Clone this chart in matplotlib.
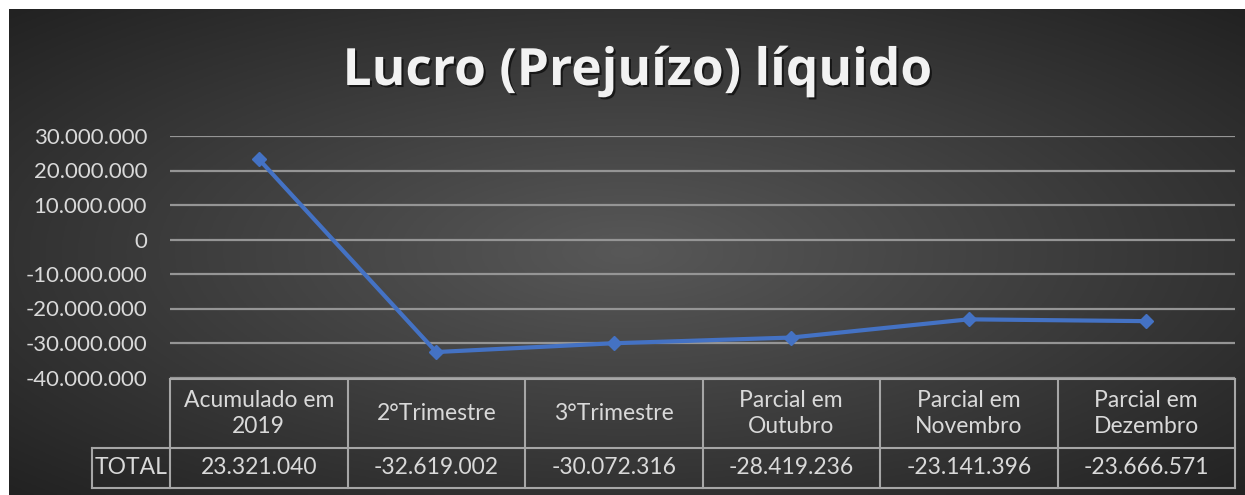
import numpy as np
import matplotlib.pyplot as plt
import matplotlib.patheffects as pe
from matplotlib.ticker import FuncFormatter
from matplotlib.transforms import blended_transform_factory

plt.rcParams['font.family'] = ['Lato', 'DejaVu Sans']

# dados
categorias = ['Acumulado em\n2019', '2°Trimestre', '3°Trimestre',
              'Parcial em\nOutubro', 'Parcial em\nNovembro', 'Parcial em\nDezembro']
valores = [23321040, -32619002, -30072316, -28419236, -23141396, -23666571]
rotulo_linha = 'TOTAL'
y_ticks = [-40000000, -30000000, -20000000, -10000000, 0, 10000000, 20000000, 30000000]


def fmt_br(v):
    return f"{v:,.0f}".replace(',', '.')


W, H = 1245, 495
fig = plt.figure(figsize=(W / 100, H / 100), dpi=100)
fig.patch.set_facecolor('white')

# fundo com gradiente radial (estilo Excel escuro)
bg = fig.add_axes([9 / W, 0, 1 - 9 / W, 1 - 9 / H])
gx, gy = np.meshgrid(np.linspace(-1, 1, 400), np.linspace(-1, 1, 200))
r = np.clip(np.sqrt(gx ** 2 + gy ** 2) / np.sqrt(2), 0, 1)
c_centro = np.array([0x58, 0x58, 0x58]) / 255
c_borda = np.array([0x22, 0x22, 0x22]) / 255
img = c_centro[None, None, :] * (1 - r[..., None]) + c_borda[None, None, :] * r[..., None]
bg.imshow(img, aspect='auto', extent=[0, 1, 0, 1])
bg.axis('off')

# área do gráfico
ax = fig.add_axes([170 / W, 1 - 377.5 / H, 1065 / W, (377.5 - 136) / H])
ax.patch.set_alpha(0)
ax.set_xlim(-0.5, 5.5)
ax.set_ylim(-40000000, 30000000)
ax.set_yticks(y_ticks)
ax.yaxis.set_major_formatter(FuncFormatter(lambda v, p: fmt_br(v)))
ax.set_xticks([])
for s in ax.spines.values():
    s.set_visible(False)
ax.grid(axis='y', color='#959595', lw=1.6)
ax.tick_params(axis='y', length=0, pad=16.5, labelsize=16, labelcolor='#d9d9d9')

x = np.arange(len(valores))
ax.plot(x, valores, color='#4472C4', lw=3, marker='D', ms=7.5, clip_on=False, zorder=3)

# tabela de dados
tr = blended_transform_factory(ax.transData, fig.transFigure)
y_top = 1 - 379 / H
y_mid = 1 - 448 / H
y_bot = 1 - 488 / H
x_total = -0.94
lc = '#a6a6a6'
for i in range(len(categorias) + 1):
    ax.plot([i - 0.5, i - 0.5], [y_top, y_bot], transform=tr, color=lc, lw=1.5, clip_on=False)
ax.plot([x_total, x_total], [y_mid, y_bot], transform=tr, color=lc, lw=1.5, clip_on=False)
ax.plot([-0.5, 5.5], [y_top, y_top], transform=tr, color=lc, lw=1.5, clip_on=False)
ax.plot([x_total, 5.5], [y_mid, y_mid], transform=tr, color=lc, lw=1.5, clip_on=False)
ax.plot([x_total, 5.5], [y_bot, y_bot], transform=tr, color=lc, lw=1.5, clip_on=False)

for i, (cat, v) in enumerate(zip(categorias, valores)):
    ax.text(i, (y_top + y_mid) / 2, cat, transform=tr, ha='center', va='center',
            fontsize=16.5, color='#d9d9d9', linespacing=1.3)
    ax.text(i, (y_mid + y_bot) / 2, fmt_br(v), transform=tr, ha='center', va='center',
            fontsize=16.5, color='#d9d9d9')
ax.text((x_total - 0.5) / 2, (y_mid + y_bot) / 2, rotulo_linha, transform=tr,
        ha='center', va='center', fontsize=16.5, color='#d9d9d9')

# título
fig.text(637 / W, 1 - 72 / H, 'Lucro (Prejuízo) líquido', ha='center', va='center',
         fontsize=37, fontweight='bold', color='#f2f2f2', family=['Open Sans', 'DejaVu Sans'],
         path_effects=[pe.withSimplePatchShadow(offset=(1.5, -1.5), shadow_rgbFace='black', alpha=0.6)])

fig.savefig('out.png', dpi=100)
